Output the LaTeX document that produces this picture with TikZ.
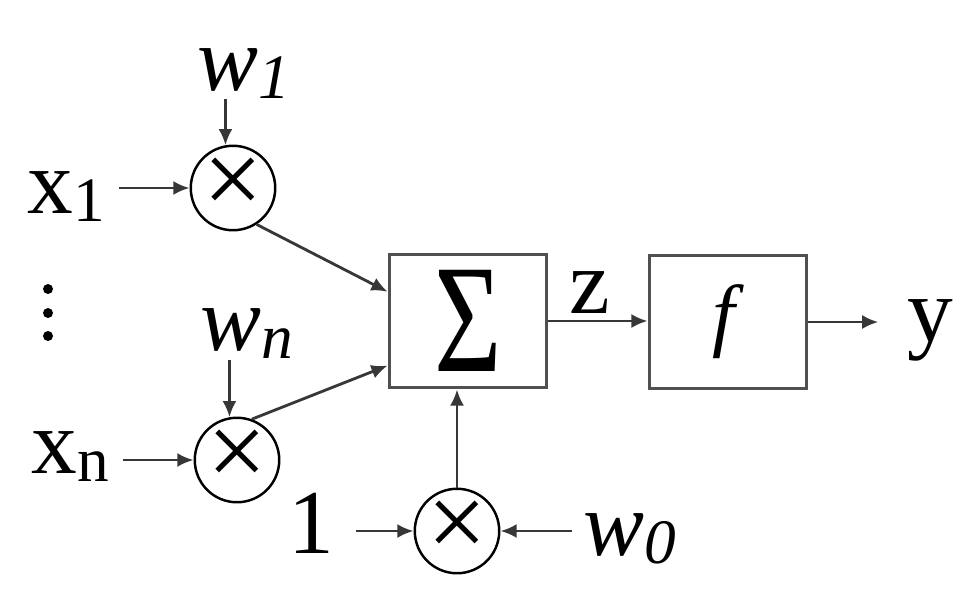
\documentclass[tikz,border=0pt]{standalone}
\usepackage{fontspec}
\usepackage{graphicx}
\setmainfont{Liberation Serif}
\usetikzlibrary{arrows.meta}
\definecolor{linegray}{RGB}{55,55,55}
\definecolor{boxgray}{RGB}{80,80,80}
\newcommand{\lblsize}{\fontsize{26}{30}\selectfont}
\newcommand{\subsize}{\fontsize{18}{20}\selectfont}
\newcommand{\lowsub}[1]{\raisebox{-2.5pt}{\subsize #1}}

\begin{document}
\begin{tikzpicture}[
    >={Latex[length=4.6pt, width=4pt]},
    lbl/.style={font=\lblsize, inner sep=0pt, anchor=base},
    mult/.style={circle, draw=black, line width=0.7pt, minimum size=0.82cm, inner sep=0pt, font=\fontsize{30}{30}\selectfont},
    blk/.style={rectangle, draw=boxgray, line width=1.1pt, minimum width=1.57cm, minimum height=1.33cm, inner sep=0pt},
    wire/.style={draw=linegray, line width=0.8pt, ->},
    dotmark/.style={circle, fill=black, minimum size=0.1cm, inner sep=0pt}
]
\useasboundingbox (0,-6) rectangle (9.68,0);

% Multipliers
\node[mult] (m1) at (2.33,-1.88) {\raisebox{1pt}{×}};
\node[mult] (mn) at (2.37,-4.60) {\raisebox{1pt}{×}};
\node[mult] (m0) at (4.57,-5.31) {\raisebox{1pt}{×}};

% Summation and activation blocks
\node[blk] (sum) at (4.68,-3.21) {\fontsize{44}{46}\selectfont\scalebox{0.75}[1]{Σ}};
\node[blk] (fbox) at (7.28,-3.22) {\fontsize{23}{26}\selectfont\textit{f}};

% Labels
\node[lbl] (x1) at (0.66,-2.13) {x\lowsub{1}};
\node[lbl] (xn) at (0.70,-4.73) {x\lowsub{n}};
\node[lbl] (w1) at (2.44,-0.90) {\textit{w}\lowsub{\textit{1}}};
\node[lbl] (wn) at (2.47,-3.50) {\textit{w}\lowsub{\textit{n}}};
\node[lbl] (w0) at (6.30,-5.55) {\textit{w}\lowsub{\textit{0}}};
\node[lbl] (one) at (3.11,-5.53) {1};
\node[lbl] (z) at (5.90,-3.13) {z};
\node[lbl] (y) at (9.30,-3.41) {y};

% Vertical dots
\foreach \dy [count=\i] in {2.89,3.13,3.36}
    \node[dotmark] (dot\i) at (0.48,-\dy) {};

% Inputs into multipliers
\draw[wire, shorten <=4pt] (x1.east |- m1) -- (m1);
\draw[wire, shorten <=4pt] (xn.east |- mn) -- (mn);
\draw[wire] (w1.south -| m1.100) -- (m1.100);
\draw[wire] (wn.south -| mn.100) -- (mn.100);
\draw[wire, shorten <=6pt] (one.east |- m0) -- (m0);
\draw[wire, shorten <=3pt] (w0.west |- m0) -- (m0);

% Products into summation
\draw[wire] (m1.-57) -- (sum.160);
\draw[wire] (mn.70) -- (sum.209);
\draw[wire] (m0) -- (m0 |- sum.south);

% Output chain
\draw[wire] (sum.east) -- (sum.east -| fbox.west);
\draw[wire, shorten >=8pt] (fbox.east) -- (fbox.east -| y.west);

\end{tikzpicture}
\end{document}
